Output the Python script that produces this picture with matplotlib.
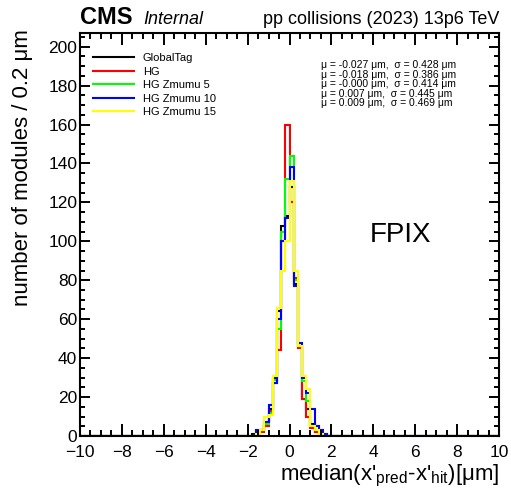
import numpy as np
import matplotlib
matplotlib.use('Agg')
import matplotlib.pyplot as plt
from matplotlib.lines import Line2D
from matplotlib.ticker import MultipleLocator

plt.rcParams['font.family'] = ['Liberation Sans', 'DejaVu Sans']
plt.rcParams['mathtext.fontset'] = 'custom'
plt.rcParams['mathtext.rm'] = 'Liberation Sans'
plt.rcParams['mathtext.it'] = 'Liberation Sans:italic'

# histogram binning: 0.2 um bins on [-10, 10], non-empty bins start at -1.8
EDGES = np.linspace(-10, 10, 101)
FIRST_LOW = -1.8

NAMES = ['GlobalTag', 'HG', 'HG Zmumu 5', 'HG Zmumu 10', 'HG Zmumu 15']
COLORS = ['black', '#ff0000', '#00ff00', '#0000ff', '#ffff00']

GLOBALTAG = [1, 2, 3, 7, 14, 30, 64, 108, 113, 128, 78, 46, 19, 14, 6, 2, 1, 0]
HG = [0, 1, 2, 5, 13, 27, 44, 100, 160, 120, 81, 45, 19, 10, 4, 2, 1, 0]
ZMUMU5 = [0, 1, 3, 6, 12, 29, 55, 105, 132, 144, 80, 46, 28, 18, 5, 3, 1, 0]
ZMUMU10 = [0, 3, 3, 7, 16, 27, 60, 100, 112, 138, 77, 48, 30, 22, 14, 5, 3, 1]
ZMUMU15 = [0, 1, 3, 10, 11, 31, 66, 85, 100, 131, 85, 46, 31, 24, 5, 3, 1, 0]

MEANS = [-0.027, -0.018, -0.000, 0.007, 0.009]
SIGMAS = [0.428, 0.386, 0.414, 0.445, 0.469]


def full_hist(counts):
    h = np.zeros(len(EDGES) - 1)
    i0 = int(round((FIRST_LOW - EDGES[0]) / 0.2))
    h[i0:i0 + len(counts)] = counts
    return h


fig = plt.figure(figsize=(5.11, 4.97), dpi=100)
ax = fig.add_axes([80 / 511, 61 / 497, 419 / 511, 403 / 497])

series = [GLOBALTAG, HG, ZMUMU5, ZMUMU10, ZMUMU15]
for counts, col in zip(series, COLORS):
    ax.stairs(full_hist(counts), EDGES, color=col, lw=1.5)

ax.set_xlim(-10, 10)
ax.set_ylim(0, 207)
ax.xaxis.set_major_locator(MultipleLocator(2))
ax.xaxis.set_minor_locator(MultipleLocator(0.5))
ax.yaxis.set_major_locator(MultipleLocator(20))
ax.yaxis.set_minor_locator(MultipleLocator(5))
ax.tick_params(which='both', direction='in', top=True, right=True, width=1.4, labelsize=12.5)
ax.tick_params(axis='x', which='major', length=8.6, pad=6.5)
ax.tick_params(axis='x', which='minor', length=4.3)
ax.tick_params(axis='y', which='major', length=7.2, pad=2)
ax.tick_params(axis='y', which='minor', length=3.6)
for sp in ax.spines.values():
    sp.set_linewidth(1.5)

ax.set_xlabel(r"median(x'$_{\rm pred}$-x'$_{\rm hit}$)[μm]", loc='right', fontsize=16)
ax.xaxis.set_label_coords(1.0, -0.066)
ax.set_ylabel('number of modules / 0.2 μm', loc='top', fontsize=16)
ax.yaxis.set_label_coords(-0.112, 1.01)

handles = [Line2D([], [], color=c, lw=1.5) for c in COLORS]
ax.legend(handles, NAMES, loc='upper left', bbox_to_anchor=(0.031, 0.95), frameon=False,
          fontsize=8, handlelength=3.7, handletextpad=0.8, labelspacing=0.32,
          borderpad=0, borderaxespad=0)

for i, (m, s) in enumerate(zip(MEANS, SIGMAS)):
    ax.text(0.574, (436 - 65 - 9.6 * i) / 403, 'μ = %.3f μm,  σ = %.3f μm' % (m, s),
            transform=ax.transAxes, fontsize=7.5, va='center', ha='left')

ax.text(0.691, (436 - 235) / 403, 'FPIX', transform=ax.transAxes, fontsize=20, va='center', ha='left')

fig.text(80 / 511, 1 - 24 / 497, 'CMS', fontsize=17, fontweight='bold', va='baseline', ha='left')
fig.text(143 / 511, 1 - 24 / 497, 'Internal', fontsize=13, style='italic', va='baseline', ha='left')
fig.text(499 / 511, 1 - 24 / 497, 'pp collisions (2023) 13p6 TeV', fontsize=13, va='baseline', ha='right')

fig.savefig('out.png', dpi=100)
